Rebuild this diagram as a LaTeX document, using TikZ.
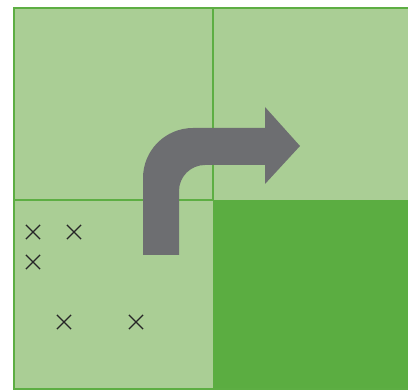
\documentclass[tikz,border=0pt]{standalone}
\usetikzlibrary{shapes.misc}

\definecolor{lightcell}{HTML}{AACE95}
\definecolor{darkcell}{HTML}{5BAD41}
\definecolor{gridline}{HTML}{5DAE43}
\definecolor{arrowgray}{HTML}{6D6E71}

\begin{document}
\begin{tikzpicture}[
  x = 1pt, y = 1pt,
  cell/.style   = {fill=lightcell},
  target/.style = {fill=darkcell},
  grid/.style   = {draw=gridline, line width=2.6pt},
  xmark/.style  = {cross out, draw=black!85, line width=1.2pt,
                   minimum size=13pt, inner sep=0pt},
  turn/.style   = {fill=arrowgray},
]

\useasboundingbox (0,0) rectangle (408,390);
\clip (0,0) rectangle (408,390);

% Cells
\fill[cell]   (14,1) rectangle (410,382);
\fill[target] (213,0) rectangle (410,190);

% Grid lines
\draw[grid] (14,1) rectangle (412,382);
\draw[grid] (213,382) -- (213,190);
\draw[grid] (14,190) -- (213,190);

% Points in the lower left cell
\node[xmark] (p1) at (33,158)  {};
\node[xmark] (p2) at (74,158)  {};
\node[xmark] (p3) at (33,128)  {};
\node[xmark] (p4) at (64,68)   {};
\node[xmark] (p5) at (136,68)  {};

% Turning arrow
\fill[turn] (143,135) -- (143,212) arc[start angle=180, end angle=90, radius=50]
  -- (265,262) -- (265,283) -- (300,244) -- (265,206) -- (265,225)
  -- (205,225) arc[start angle=90, end angle=180, radius=26]
  -- (179,135) -- cycle;

\end{tikzpicture}
\end{document}
